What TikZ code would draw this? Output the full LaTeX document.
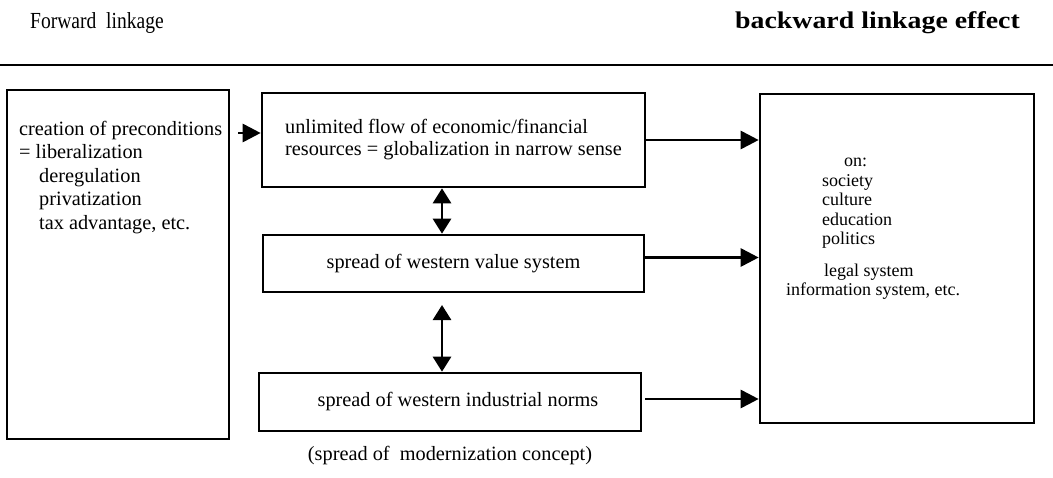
\documentclass[tikz,border=0pt]{standalone}
\usepackage{fontspec}
\setmainfont{Liberation Serif}
\usetikzlibrary{arrows.meta,positioning,calc}

\begin{document}
\begin{tikzpicture}[x=1pt,y=-1pt,
  box/.style={draw,line width=2.6pt,inner sep=0pt,align=center,font=\fontsize{20.3}{22}\selectfont},
  txt/.style={inner sep=0pt,align=left,font=\fontsize{20.3}{23.5}\selectfont},
  link/.style={line width=2.8pt,-{Triangle[length=18pt,width=18pt]}},
  both/.style={line width=2.8pt,{Triangle[length=15pt,width=18pt]}-{Triangle[length=15pt,width=18pt]}}]
\useasboundingbox (0,0) rectangle (1053,477);
\node[txt,anchor=base west,xscale=0.85,font=\fontsize{23}{26}\selectfont] (Fwd) at (30,28) {Forward\ \ linkage};
\node[txt,anchor=base east,xscale=1.16,font=\bfseries\fontsize{24}{28}\selectfont] (Bwd) at (1020,28) {backward linkage effect};
\draw[line width=1.6pt] (0,65) -- (1053,65);

\node[box,minimum width=222pt,minimum height=349pt] (Pre) at (118,264.5) {};
\node[txt,anchor=north west] (PreTxt) at (19,121) {creation of preconditions\\= liberalization\\\hspace*{20pt}deregulation\\\hspace*{20pt}privatization\\\hspace*{20pt}tax advantage, etc.};

\node[box,minimum width=383pt,minimum height=94pt,align=left] (Flow) at (453.5,140) {unlimited flow of economic/financial\\resources = globalization in narrow sense};
\node[box,minimum width=381pt,minimum height=57pt] (Val) at (453.5,263.5) {spread of western value system};
\node[box,minimum width=382pt,minimum height=58pt] (Norm) at (450,402) {\hspace*{16pt}spread of western industrial norms};
\node[txt,below=14pt of Norm] (Conc) {(spread of\ \ modernization concept)};

\node[box,minimum width=274pt,minimum height=329pt] (Eff) at (897,258.5) {};
\node[txt,font=\fontsize{18}{19.5}\selectfont] (EffTxt) at (873,229) {\hspace*{58pt}on:\\\hspace*{36pt}society\\\hspace*{36pt}culture\\\hspace*{36pt}education\\\hspace*{36pt}politics\\[12pt]\hspace*{38pt}legal system\\information system, etc.};

\coordinate (PreOut) at (238,133);
\coordinate (Mid) at (442,0);
\coordinate (Gap) at (442,305);
\draw[link] (PreOut) -- (PreOut -| Flow.west);
\draw[link] (Flow.east) -- (Flow.east -| Eff.west);
\draw[link] ($(Val.east)+(0,-6)$) -- ($(Val.east -| Eff.west)+(0,-6)$);
\draw[link] ($(Norm.east)+(3,-3)$) -- ($(Norm.east -| Eff.west)+(0,-3)$);
\draw[both] (Flow.south -| Mid) -- (Val.north -| Mid);
\draw[both] (Gap) -- (Norm.north -| Gap);
\end{tikzpicture}
\end{document}
